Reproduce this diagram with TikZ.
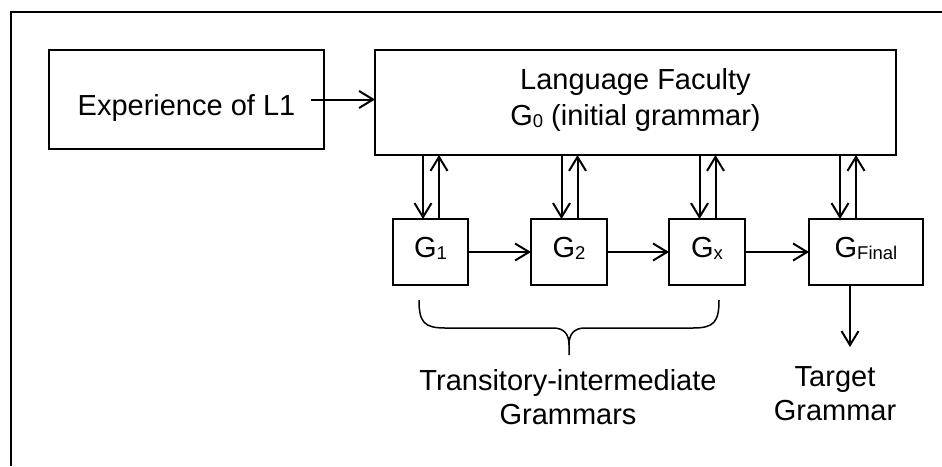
\documentclass[tikz,border=0pt]{standalone}
\usepackage{fontspec}
\setmainfont{Liberation Sans}
\usetikzlibrary{arrows.meta}
\newcommand\subsc[1]{\raisebox{-2pt}{\fontsize{18.5}{20}\selectfont #1}}
\begin{document}
\begin{tikzpicture}[x=1pt,y=-1pt,
  box/.style={draw, line width=2pt, inner sep=0pt, outer sep=0pt, font=\fontsize{29}{34}\selectfont},
  gbox/.style={box, minimum height=66pt, text height=10pt, text depth=0pt},
  arr/.style={line width=2pt, -{Straight Barb[length=14pt,width=17pt,line width=2pt]}},
  lbl/.style={font=\fontsize{29}{34}\selectfont, align=center, inner sep=0pt}]
\useasboundingbox (0,0) rectangle (942,466);
\draw[line width=2.5pt] (942,12) -- (11,12) -- (11,466);

\node[box, minimum width=275pt, minimum height=99pt, text height=31pt, text depth=0pt] (exp) at (186.5,99.5) {Experience of L1};
\node[box, minimum width=521pt, minimum height=105pt, align=center, font=\fontsize{29}{36}\selectfont, text height=51pt, text depth=6pt] (lf) at (635.5,102.5) {Language Faculty\\G\subsc{0} (initial grammar)};

\node[gbox, minimum width=75pt] (g1) at (430.5,252) {G\subsc{1}};
\node[gbox, minimum width=76pt] (g2) at (569,252) {G\subsc{2}};
\node[gbox, minimum width=76pt] (gx) at (707,252) {G\subsc{x}};
\node[gbox, minimum width=114pt] (gf) at (866,252) {G\subsc{Final}};

\draw[arr] ([xshift=-13pt]exp.east) -- (exp.east -| lf.west);

\foreach \n/\a/\b in {g1/-7.5/8.5, g2/-7.5/8.5, gx/-7.5/8.5, gf/-26/-10} {
  \draw[arr] ([xshift=\a pt]\n.north |- lf.south) -- ([xshift=\a pt]\n.north);
  \draw[arr] ([xshift=\b pt]\n.north) -- ([xshift=\b pt]\n.north |- lf.south);
}

\draw[arr] (g1.east) -- (g2.west);
\draw[arr] (g2.east) -- (gx.west);
\draw[arr] (gx.east) -- (gf.west);

\coordinate (tg) at (850,347);
\draw[arr] (gf.south -| tg) -- (tg);
\node[lbl] (tgt) at (835,394) {Target\\Grammar};

\draw[line width=1.5pt] (419,300) .. controls (419,322) and (424,328) .. (445,328) -- (553,328)
  .. controls (564,328) and (569,334) .. (569,345) -- (569,355)
  (569,345) .. controls (569,334) and (574,328) .. (585,328) -- (693,328)
  .. controls (714,328) and (719,322) .. (719,300);
\node[lbl] (tig) at (568,397) {Transitory-intermediate\\Grammars};
\end{tikzpicture}
\end{document}
